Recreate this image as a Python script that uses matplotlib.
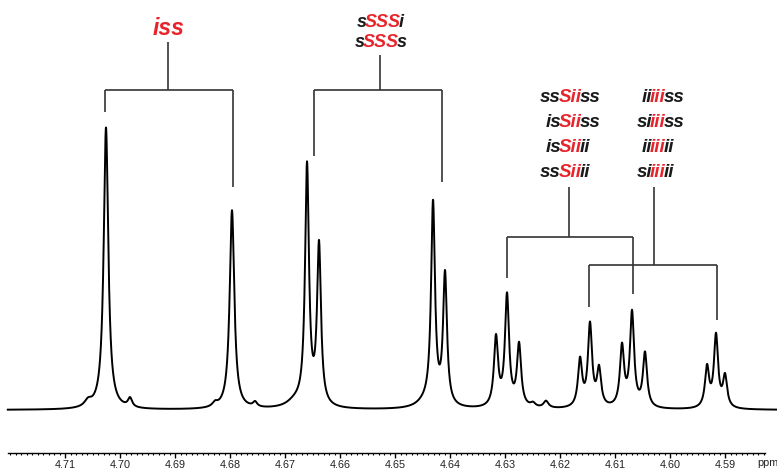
import numpy as np
import matplotlib
matplotlib.use("Agg")
import matplotlib.pyplot as plt
from matplotlib.ticker import FixedLocator, FormatStrFormatter

# peak list: centre (ppm), height (a.u.), FWHM (ppm)
peak_ppm = [4.70582, 4.70255, 4.69818, 4.68273, 4.67964, 4.67545,
            4.66818, 4.66600, 4.66382, 4.64455, 4.64309, 4.64091,
            4.63164, 4.62964, 4.62745, 4.62491, 4.62255,
            4.61636, 4.61455, 4.61291, 4.60873, 4.60691, 4.60455,
            4.59327, 4.59164, 4.59000]
peak_height = [6, 282, 9, 4, 199, 5,
               6, 240, 160, 5, 202, 131,
               69, 111, 62, 4, 7,
               47, 82, 37, 60, 94, 54,
               40, 72, 31]
peak_fwhm = [0.0015, 0.0010, 0.0009, 0.0011, 0.0010, 0.0009,
             0.0036, 0.00085, 0.00085, 0.0036, 0.00085, 0.00085,
             0.0009, 0.0009, 0.0009, 0.0011, 0.0011,
             0.0009, 0.0009, 0.0009, 0.0009, 0.0009, 0.0009,
             0.0009, 0.0009, 0.0009]

ppm_start, ppm_end = 4.7204, 4.5806
tick_values = [4.71, 4.70, 4.69, 4.68, 4.67, 4.66, 4.65, 4.64,
               4.63, 4.62, 4.61, 4.60, 4.59]

RED = "#e8242b"
BLK = "#1a1a1a"

# label groups: lines made of (text, colour) parts, red part is index 1
iss_lines = [[("", BLK), ("iss", RED), ("", BLK)]]
ssss_lines = [[("s", BLK), ("SSS", RED), ("i", BLK)],
              [("s", BLK), ("SSS", RED), ("s", BLK)]]
sii_lines = [[("ss", BLK), ("Sii", RED), ("ss", BLK)],
             [("is", BLK), ("Sii", RED), ("ss", BLK)],
             [("is", BLK), ("Sii", RED), ("ii", BLK)],
             [("ss", BLK), ("Sii", RED), ("ii", BLK)]]
iii_lines = [[("ii", BLK), ("iii", RED), ("ss", BLK)],
             [("si", BLK), ("iii", RED), ("ss", BLK)],
             [("ii", BLK), ("iii", RED), ("ii", BLK)],
             [("si", BLK), ("iii", RED), ("ii", BLK)]]

x = np.linspace(ppm_start, ppm_end, 5000)
y = np.zeros_like(x)
for c, h, w in zip(peak_ppm, peak_height, peak_fwhm):
    y += h / (1 + ((x - c) / (w / 2)) ** 2)

fig = plt.figure(figsize=(7.77, 4.71), dpi=100)
ax = fig.add_axes([0, 0, 1, 1])
ax.set_xlim(4.72182, 4.58055)
ax.set_ylim(-61, 410)

ax.plot(x, y, color="black", lw=1.4)

for s in ["top", "left", "right"]:
    ax.spines[s].set_visible(False)
ax.spines["bottom"].set_position(("data", -43))
ax.spines["bottom"].set_bounds(ppm_start, 4.5827)
ax.spines["bottom"].set_linewidth(1.0)
ax.yaxis.set_visible(False)
ax.xaxis.set_major_locator(FixedLocator(tick_values))
ax.xaxis.set_major_formatter(FormatStrFormatter("%.2f"))
ax.xaxis.set_minor_locator(FixedLocator(np.round(np.arange(4.720, 4.5825, -0.001), 3)))
ax.tick_params(axis="x", which="major", length=3.5, width=1.0, pad=1.2,
               labelsize=7.8, labelcolor="#222222", direction="out")
ax.tick_params(axis="x", which="minor", length=1.6, width=0.8, direction="out")
for lab in ax.get_xticklabels():
    lab.set_fontfamily("Liberation Sans")
ax.text(4.58420, -48, "ppm", fontsize=7.8, color="#222222", va="top",
        ha="left", family="Liberation Sans")

# brackets
bk = dict(color="#333333", lw=1.2, solid_capstyle="butt")


def bracket(stem_x, stem_top, bar_y, legs):
    ax.plot([stem_x, stem_x], [stem_top, bar_y], **bk)
    ax.plot([legs[0][0], legs[-1][0]], [bar_y, bar_y], **bk)
    for lx, ly in legs:
        ax.plot([lx, lx], [bar_y, ly], **bk)


bracket(4.69127, 368, 320, [(4.70273, 298), (4.67945, 223)])
bracket(4.65273, 355, 320, [(4.66473, 254), (4.64145, 228)])
bracket(4.61836, 223, 173, [(4.62964, 132), (4.60673, 116)])
bracket(4.60291, 223, 145, [(4.61473, 103), (4.59145, 90)])

fig.canvas.draw()
renderer = fig.canvas.get_renderer()
inv = ax.transData.inverted()
KERN = 2.0  # px overlap at colour joins (italic extents leave a gap)


def colored_line(xa, yb, parts, size):
    fp = dict(fontsize=size, fontweight="bold", fontstyle="italic",
              family="Liberation Sans", va="baseline")
    mid = ax.text(xa, yb, parts[1][0], color=parts[1][1], ha="left", **fp)
    bb = mid.get_window_extent(renderer)
    if parts[2][0]:
        xr = inv.transform((bb.x1 - KERN, bb.y0))[0]
        ax.text(xr, yb, parts[2][0], color=parts[2][1], ha="left", **fp)
    if parts[0][0]:
        xl = inv.transform((bb.x0 + KERN, bb.y0))[0]
        ax.text(xl, yb, parts[0][0], color=parts[0][1], ha="right", **fp)


colored_line(4.69400, 375, iss_lines[0], 16.5)
colored_line(4.65545, 383, ssss_lines[0], 13)
colored_line(4.65582, 363, ssss_lines[1], 13)
for i, ln in enumerate(sii_lines):
    colored_line(4.62018, 308 - 25 * i, ln, 13.5)
for i, ln in enumerate(iii_lines):
    colored_line(4.60364, 308 - 25 * i, ln, 13.5)

fig.savefig("out.png", dpi=100)
